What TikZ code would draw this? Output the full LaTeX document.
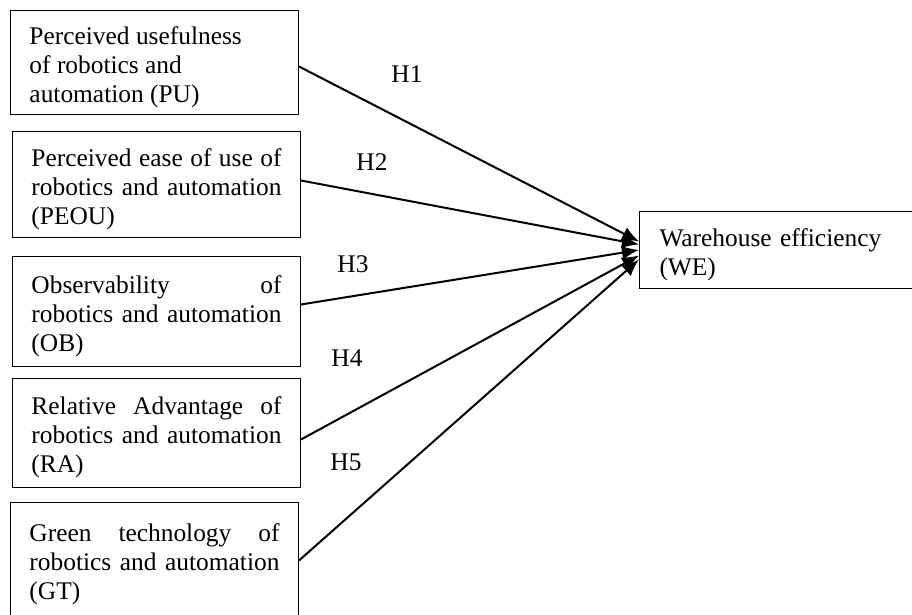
\documentclass[tikz,border=0pt]{standalone}
\usepackage{fontspec}
\setmainfont{Liberation Serif}
\usetikzlibrary{arrows.meta}
\def\hyp#1{H#1}

\begin{document}
\begin{tikzpicture}[x=0.5pt,y=-0.5pt]
    \tikzstyle{every node}=[font=\fontsize{12.7}{14.5}\selectfont]
    \tikzstyle{factor}=[draw,line width=0.5pt,anchor=north west,text width=125pt,
      inner xsep=9.5pt,align=justify,execute at begin node={\hyphenpenalty=10000},
      execute at end node={\endgraf\vspace*{-4.5pt}}]
    \tikzstyle{link}=[line width=1pt,-{Latex[length=8.5pt,width=7pt]}]
    \useasboundingbox (0,0) rectangle (912,615);
    \node[factor,minimum height=52pt] (pu) at (10,10)
      {Perceived usefulness\\ of robotics and\\ automation (PU)};
    \node[factor,minimum height=53pt] (peou) at (12,131)
      {Perceived ease of use of\linebreak robotics and automation\linebreak (PEOU)};
    \node[factor,minimum height=55pt] (ob) at (12,256)
      {Observability of\linebreak robotics and automation\linebreak (OB)};
    \node[factor,minimum height=54.5pt] (ra) at (12,378)
      {Relative Advantage of\linebreak robotics and automation\linebreak (RA)};
    \node[factor,minimum height=57.5pt] (gt) at (10,502)
      {Green technology of\linebreak robotics and automation\linebreak (GT)};
    \node[factor,align=left,inner xsep=10pt,minimum height=38.5pt] (we) at (639,211)
      {Warehouse efficiency\\ (WE)};
    \draw[link] ([yshift=-2pt]pu.east) -- ([yshift=4.25pt]we.west);
    \draw[link] ([yshift=2pt]peou.east) -- ([yshift=2.75pt]we.west);
    \draw[link] ([yshift=3.5pt]ob.east) -- ([yshift=0pt]we.west);
    \draw[link] ([yshift=-3.25pt]ra.east) -- ([yshift=-2.75pt]we.west);
    \draw[link] ([yshift=-0.25pt]gt.east) -- ([yshift=-4.75pt]we.west);
    \node (h1) at (407,74) {\hyp{1}};
    \node (h2) at (372,162) {\hyp{2}};
    \node (h3) at (353,264) {\hyp{3}};
    \node (h4) at (347,358) {\hyp{4}};
    \node (h5) at (346,462) {\hyp{5}};
\end{tikzpicture}
\end{document}
